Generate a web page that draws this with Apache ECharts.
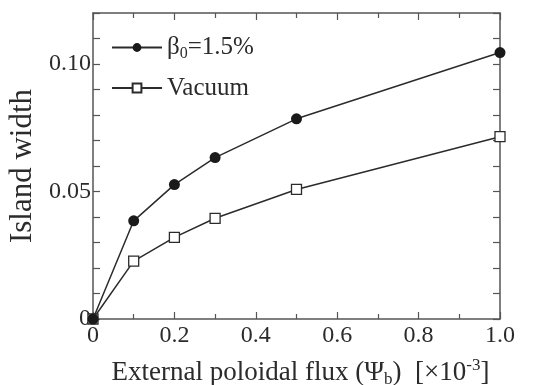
<!DOCTYPE html>
<html>
<head>
<meta charset="utf-8">
<script src="https://cdn.jsdelivr.net/npm/echarts@6/dist/echarts.min.js"></script>
<style>
  html, body { margin: 0; padding: 0; background: #fff; }
  #chart { width: 551px; height: 385px; }
</style>
</head>
<body>
<div id="chart"></div>
<script>
// flux values (x10^-3)
const flux = [0, 0.1, 0.2, 0.3, 0.5, 1.0];
const betaWidth = [0, 0.0385, 0.0527, 0.0633, 0.0785, 0.1045];
const vacuumWidth = [0, 0.0227, 0.032, 0.0395, 0.0508, 0.0715];

const ink = '#2b2b2b';
const serif = '"Liberation Serif", "DejaVu Serif", serif';

function pairs(xs, ys) {
  return xs.map((x, i) => [x, ys[i]]);
}

const chart = echarts.init(document.getElementById('chart'));

const axisLine = { show: true, onZero: false, lineStyle: { color: '#555', width: 1.5 } };
const tick = { show: true, inside: true, length: 7, lineStyle: { color: '#555', width: 1.2 } };
const minor = { show: true, splitNumber: 2, length: 5, lineStyle: { color: '#555', width: 1.2 } };

const option = {
  animation: false,
  backgroundColor: '#fff',
  grid: { left: 93, right: 51, top: 13, bottom: 66, containLabel: false, outerBoundsMode: 'none' },
  legend: {
    orient: 'vertical',
    left: 106,
    top: 30,
    itemWidth: 50,
    itemHeight: 11,
    itemGap: 14,
    textStyle: {
      fontFamily: serif, fontSize: 25, color: ink,
      rich: {
        sub: { fontFamily: serif, fontSize: 16, color: ink, verticalAlign: 'bottom', padding: [12, 0, 0, 0] }
      }
    },
    formatter: function (name) {
      return name === 'beta' ? 'β{sub|0}=1.5%' : 'Vacuum';
    },
    data: ['beta', 'Vacuum']
  },
  xAxis: [
    {
      type: 'value', min: 0, max: 1.0, interval: 0.2,
      axisLine: axisLine, axisTick: tick, minorTick: minor,
      splitLine: { show: false },
      axisLabel: {
        fontFamily: serif, fontSize: 24, color: ink, margin: 5,
        formatter: v => v === 0 ? '0' : v.toFixed(1)
      },
      name: 'External poloidal flux (Ψ{sub|b})  [×10{sup|-3}]',
      nameLocation: 'middle',
      nameGap: 38,
      nameTextStyle: {
        fontFamily: serif, fontSize: 27, color: ink, padding: [0, 0, 0, 8],
        rich: {
          sub: { fontFamily: serif, fontSize: 17, color: ink, verticalAlign: 'bottom', padding: [14, 0, 0, 0] },
          sup: { fontFamily: serif, fontSize: 17, color: ink, verticalAlign: 'top', padding: [0, 0, 12, 0] }
        }
      }
    },
    {
      type: 'value', position: 'top', min: 0, max: 1.0, interval: 0.2,
      axisLine: axisLine, axisTick: tick, minorTick: minor,
      splitLine: { show: false }, axisLabel: { show: false }
    }
  ],
  yAxis: [
    {
      type: 'value', min: 0, max: 0.12, interval: 0.01,
      axisLine: axisLine, axisTick: tick,
      splitLine: { show: false },
      axisLabel: {
        fontFamily: serif, fontSize: 24, color: ink, margin: 2,
        formatter: function (v) {
          const k = Math.round(v * 100);
          if (k === 0) return '0';
          return k % 5 === 0 ? v.toFixed(2) : '';
        }
      },
      name: 'Island width',
      nameLocation: 'middle',
      nameGap: 50,
      nameTextStyle: { fontFamily: serif, fontSize: 31, color: ink }
    },
    {
      type: 'value', position: 'right', min: 0, max: 0.12, interval: 0.01,
      axisLine: axisLine, axisTick: tick,
      splitLine: { show: false }, axisLabel: { show: false }
    }
  ],
  series: [
    {
      name: 'Vacuum', type: 'line',
      data: pairs(flux, vacuumWidth),
      symbol: 'rect', symbolSize: 10,
      lineStyle: { color: ink, width: 1.5 },
      itemStyle: { color: '#fff', borderColor: ink, borderWidth: 1.3 }
    },
    {
      name: 'beta', type: 'line',
      data: pairs(flux, betaWidth),
      symbol: 'circle', symbolSize: 11,
      lineStyle: { color: ink, width: 1.5 },
      itemStyle: { color: '#1a1a1a', borderColor: '#1a1a1a', borderWidth: 0 }
    }
  ]
};

chart.setOption(option);
</script>
</body>
</html>
